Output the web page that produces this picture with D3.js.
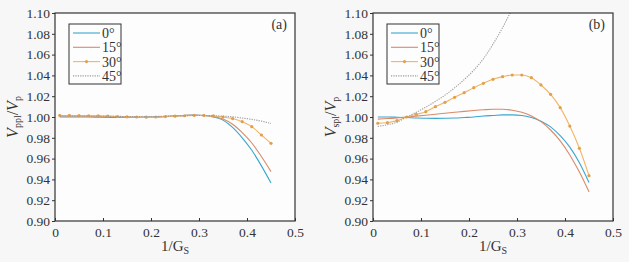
<!DOCTYPE html>
<html>
<head>
<meta charset="utf-8">
<script src="https://cdn.jsdelivr.net/npm/d3@7"></script>
<style>
  body { margin: 0; background: #f7f7f7; }
  svg { display: block; }
</style>
</head>
<body>
<div id="chart"></div>
<script>
// x positions of the samples (1/Gs)
var xs = [0.01, 0.03, 0.05, 0.07, 0.09, 0.11, 0.13, 0.15, 0.17, 0.19, 0.21, 0.23,
          0.25, 0.27, 0.29, 0.31, 0.33, 0.35, 0.37, 0.39, 0.41, 0.43, 0.45];

var angles = ["0°", "15°", "30°", "45°"];
var xTicks = [0, 0.1, 0.2, 0.3, 0.4, 0.5];
var yTicks = [0.90, 0.92, 0.94, 0.96, 0.98, 1.00, 1.02, 1.04, 1.06, 1.08, 1.10];

// panel (a) Vppl/Vp
var a0  = [1.000, 1.000, 1.000, 1.000, 0.9998, 0.9996, 0.9995, 0.9995, 0.9996, 0.9998, 1.000, 1.0005,
           1.001, 1.0015, 1.0018, 1.0015, 1.000, 0.997, 0.990, 0.980, 0.968, 0.953, 0.9365];
var a15 = [1.001, 1.001, 1.001, 1.0008, 1.0006, 1.0004, 1.0002, 1.0, 0.9998, 0.9998, 1.0, 1.0005,
           1.001, 1.0015, 1.0018, 1.0015, 1.0005, 0.998, 0.993, 0.985, 0.975, 0.962, 0.9475];
var a30 = [1.0015, 1.0015, 1.0013, 1.0012, 1.001, 1.0008, 1.0005, 1.0002, 1.0, 0.9998, 1.0, 1.0004,
           1.0008, 1.0012, 1.0015, 1.0015, 1.001, 1.0, 0.9985, 0.9955, 0.9907, 0.9827, 0.9747];
var a45 = [1.001, 1.001, 1.001, 1.001, 1.001, 1.0008, 1.0006, 1.0005, 1.0004, 1.0004, 1.0005, 1.0008,
           1.001, 1.0013, 1.0015, 1.0015, 1.0013, 1.0008, 1.0002, 0.999, 0.9977, 0.996, 0.9938];

// panel (b) Vspl/Vp
var b0  = [1.000, 1.000, 0.9998, 0.9995, 0.999, 0.9988, 0.9987, 0.9988, 0.999, 0.9995, 1.000, 1.001,
           1.0015, 1.002, 1.002, 1.0015, 0.9995, 0.996, 0.9905, 0.982, 0.971, 0.956, 0.937];
var b15 = [0.998, 0.9985, 0.9992, 1.000, 1.0008, 1.0017, 1.0027, 1.0036, 1.0045, 1.0054, 1.0062, 1.0069,
           1.0074, 1.0074, 1.0065, 1.0045, 1.001, 0.9955, 0.9875, 0.977, 0.9635, 0.947, 0.928];
var b30 = [0.994, 0.9945, 0.9965, 1.000, 1.0025, 1.0051, 1.0099, 1.0141, 1.0189, 1.0234, 1.0282, 1.0324,
           1.0362, 1.0388, 1.0404, 1.0404, 1.0378, 1.0308, 1.0218, 1.009, 0.9913, 0.9699, 0.9436];
var b45 = [0.991, 0.9925, 0.995, 1.000, 1.0045, 1.0095, 1.015, 1.021, 1.028, 1.036, 1.045, 1.056,
           1.070, 1.086, 1.104, 1.122];

var colors = ["#3aa6cf", "#d98a68", "#f2b663", "#9a9a9a"];
var serif = "Liberation Serif";

var width = 629, height = 262;

var svg = d3.select("#chart")
    .append("svg")
    .attr("width", width)
    .attr("height", height)
    .attr("font-family", serif);

function Panel(left, series, sub, tag, id) {
  var margin = {top: 13, bottom: 221},
      right = left + 240;

  var x = d3.scaleLinear().domain([0, 0.5]).range([left, right]);
  var y = d3.scaleLinear().domain([0.90, 1.10]).range([margin.bottom, margin.top]);

  var g = svg.append("g").attr("class", "panel").attr("font-family", serif).attr("fill", "#333");

  svg.append("clipPath")
      .attr("id", "clip" + id)
    .append("rect")
      .attr("x", left).attr("y", margin.top)
      .attr("width", right - left).attr("height", margin.bottom - margin.top);

  g.append("rect")
      .attr("x", left).attr("y", margin.top)
      .attr("width", right - left).attr("height", margin.bottom - margin.top)
      .style("fill", "#fdfdfd");

  // y axis, ticks outward
  var gy = g.append("g")
      .attr("transform", "translate(" + left + ",0)")
      .call(d3.axisLeft(y).tickValues(yTicks).tickSize(3).tickPadding(2)
        .tickFormat(d3.format(".2f")))
      .attr("font-family", serif)
      .attr("font-size", 13.5);
  gy.select(".domain").remove();
  gy.selectAll("line").style("stroke", "#333");
  gy.selectAll("text").attr("fill", "#333");

  // x axis, ticks inward
  var gx = g.append("g")
      .attr("transform", "translate(0," + margin.bottom + ")")
      .call(d3.axisBottom(x).tickValues(xTicks).tickSize(-3).tickPadding(6)
        .tickFormat(function(d) { return d === 0 ? "0" : d3.format(".1f")(d); }))
      .attr("font-family", serif)
      .attr("font-size", 13.5);
  gx.select(".domain").remove();
  gx.selectAll("line").style("stroke", "#333");
  gx.selectAll("text").attr("fill", "#333");

  // lines
  var lines = g.append("g").attr("clip-path", "url(#clip" + id + ")");
  series.forEach(function(vals, i) {
    var pts = vals.map(function(v, j) { return [xs[j], v]; });
    var line = d3.line()
        .x(function(d) { return x(d[0]); })
        .y(function(d) { return y(d[1]); })
        .curve(d3.curveMonotoneX);
    lines.append("path")
        .datum(pts)
        .attr("d", line)
        .style("fill", "none")
        .style("stroke", colors[i])
        .style("stroke-width", 1.1)
        .style("stroke-dasharray", i == 3 ? "1.2,1.2" : null);
    if (i == 2) {
      lines.selectAll(".dot" + id)
          .data(pts)
          .enter().append("circle")
          .attr("cx", function(d) { return x(d[0]); })
          .attr("cy", function(d) { return y(d[1]); })
          .attr("r", 1.6)
          .style("fill", "#e0a050");
    }
  });

  // frame
  g.append("rect")
      .attr("x", left).attr("y", margin.top)
      .attr("width", right - left).attr("height", margin.bottom - margin.top)
      .style("fill", "none")
      .style("stroke", "#333")
      .style("stroke-width", 1.2);

  // legend
  var lx = left + 14, ly = 24;
  g.append("rect")
      .attr("x", lx).attr("y", ly)
      .attr("width", 52).attr("height", 60)
      .style("fill", "#fdfdfd")
      .style("stroke", "#333")
      .style("stroke-width", 1);
  angles.forEach(function(a, i) {
    var yy = ly + 9 + i * 14.3;
    g.append("line")
        .attr("x1", lx + 4).attr("x2", lx + 31)
        .attr("y1", yy).attr("y2", yy)
        .style("stroke", colors[i])
        .style("stroke-width", 1.1)
        .style("stroke-dasharray", i == 3 ? "1.2,1.2" : null);
    if (i == 2) {
      g.append("circle")
          .attr("cx", lx + 17.5).attr("cy", yy).attr("r", 1.6)
          .style("fill", "#e0a050");
    }
    g.append("text")
        .attr("x", lx + 33).attr("y", yy + 5)
        .attr("font-size", 14)
        .text(a);
  });

  // panel tag
  g.append("text")
      .attr("x", right - 8).attr("y", 29)
      .attr("text-anchor", "end")
      .attr("font-size", 14)
      .text(tag);

  // x label
  var xl = g.append("text")
      .attr("x", (left + right) / 2).attr("y", 251)
      .attr("text-anchor", "middle")
      .attr("font-size", 15);
  xl.append("tspan").text("1/G");
  xl.append("tspan").attr("dy", 3).attr("font-size", 10).text("S");

  // y label
  var yl = g.append("text")
      .attr("transform", "translate(" + (left - 37) + "," + 117 + ") rotate(-90)")
      .attr("text-anchor", "middle")
      .attr("font-size", 16);
  yl.append("tspan").attr("font-style", "italic").text("V");
  yl.append("tspan").attr("dy", 3).attr("font-size", 10).text(sub);
  yl.append("tspan").attr("dy", -3).text("/");
  yl.append("tspan").attr("font-style", "italic").text("V");
  yl.append("tspan").attr("dy", 3).attr("font-size", 10).text("p");
}

Panel(55, [a0, a15, a30, a45], "ppl", "(a)", "a");
Panel(373, [b0, b15, b30, b45], "spl", "(b)", "b");
</script>
</body>
</html>
